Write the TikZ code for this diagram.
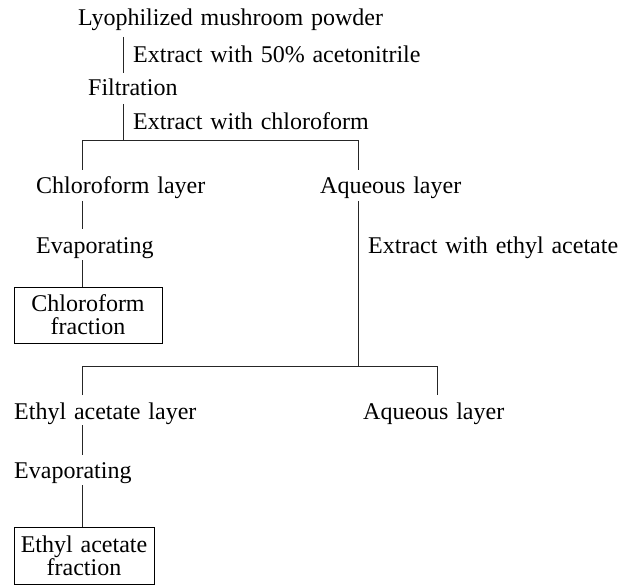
\documentclass[tikz,border=0pt]{standalone}
\usepackage{fontspec}
\setmainfont{Liberation Serif}[WordSpace=1.3]
\begin{document}
\begin{tikzpicture}[x=1pt,y=-1pt,
  lbl/.style={anchor=base west, inner sep=0pt, font=\fontsize{24}{23}\selectfont},
  fracbox/.style={draw, line width=0.9pt, inner sep=0pt, align=center, font=\fontsize{24}{23}\selectfont},
  conn/.style={line width=0.9pt, draw=black!85}]
\useasboundingbox (0,0) rectangle (644,585);
% text nodes
\node[lbl] (lyo) at (78,26) {Lyophilized mushroom powder};
\node[lbl] (ext1) at (133,63) {Extract with 50\% acetonitrile};
\node[lbl] (filt) at (88,96) {Filtration};
\node[lbl] (ext2) at (133,130) {Extract with chloroform};
\node[lbl] (chl) at (36,194) {Chloroform layer};
\node[lbl] (aql) at (320,194) {Aqueous layer};
\node[lbl] (eva1) at (36,253) {Evaporating};
\node[lbl] (ext3) at (368,253) {Extract with ethyl acetate};
\node[lbl] (eal) at (14,419) {Ethyl acetate layer};
\node[lbl] (aql2) at (363,419) {Aqueous layer};
\node[lbl] (eva2) at (14,478) {Evaporating};
\node[fracbox, minimum width=148pt, minimum height=56pt] (cfrac) at (88,315) {Chloroform\\fraction};
\node[fracbox, minimum width=140pt, minimum height=57pt] (efrac) at (84,555.5) {Ethyl acetate\\fraction};
% connector points
\coordinate (p1) at (123,37);  \coordinate (p2) at (123,73);
\coordinate (p3) at (123,104); \coordinate (s1) at (123,140);
\coordinate (s1l) at (82,140); \coordinate (s1r) at (358,140);
\coordinate (c1) at (82,170);  \coordinate (a1) at (358,170);
\coordinate (c2) at (82,201);  \coordinate (c3) at (82,229);
\coordinate (c4) at (82,260);
\coordinate (a2) at (358,201); \coordinate (s2) at (358,366);
\coordinate (s2l) at (82,366); \coordinate (s2r) at (437,366);
\coordinate (e1) at (82,395);  \coordinate (a3) at (437,395);
\coordinate (e2) at (82,425);  \coordinate (e3) at (82,455);
\coordinate (e4) at (82,485);
% connectors
\draw[conn] (p1) -- (p2);
\draw[conn] (p3) -- (s1);
\draw[conn] (c1) -- (s1l) -- (s1r) -- (a1);
\draw[conn] (c2) -- (c3);
\draw[conn] (c4) -- (cfrac.north -| c4);
\draw[conn] (a2) -- (s2);
\draw[conn] (e1) -- (s2l) -- (s2r) -- (a3);
\draw[conn] (e2) -- (e3);
\draw[conn] (e4) -- (efrac.north -| e4);
\end{tikzpicture}
\end{document}
